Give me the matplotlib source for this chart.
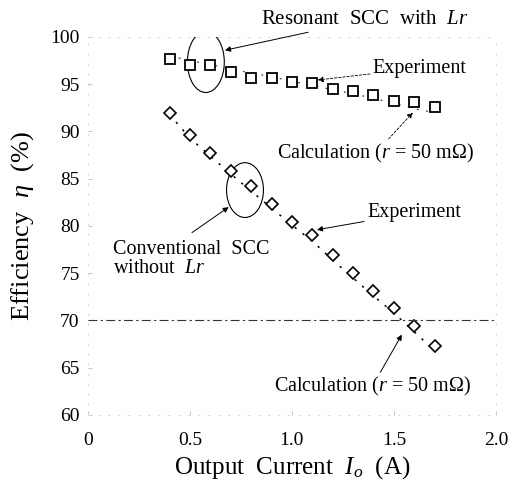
import matplotlib.pyplot as plt
from matplotlib.patches import Ellipse

plt.rcParams['font.family'] = ['Liberation Serif', 'DejaVu Serif']
plt.rcParams['mathtext.fontset'] = 'custom'
plt.rcParams['mathtext.rm'] = 'Liberation Serif'
plt.rcParams['mathtext.it'] = 'Liberation Serif:italic'

# --- DATA ---
current = [0.4, 0.5, 0.6, 0.7, 0.8, 0.9, 1.0, 1.1, 1.2, 1.3, 1.4, 1.5, 1.6, 1.7]

resonant_exp = [97.7, 97.0, 97.0, 96.3, 95.7, 95.7, 95.2, 95.1, 94.5, 94.3, 93.9, 93.2, 93.1, 92.6]
resonant_calc = [98.0, 97.5, 97.1, 96.6, 96.2, 95.8, 95.3, 94.9, 94.4, 94.0, 93.5, 93.0, 92.4, 92.0]

conv_exp = [92.0, 89.6, 87.7, 85.8, 84.2, 82.3, 80.4, 79.0, 76.9, 75.0, 73.1, 71.3, 69.4, 67.3]
conv_calc = [91.8, 89.3, 87.4, 85.5, 83.7, 81.9, 80.1, 78.4, 76.4, 74.5, 72.6, 70.8, 68.8, 66.8]

x_ticks = [0, 0.5, 1.0, 1.5, 2.0]
x_ticklabels = ['0', '0.5', '1.0', '1.5', '2.0']
y_ticks = [60, 65, 70, 75, 80, 85, 90, 95, 100]
ref_level = 70

fig = plt.figure(figsize=(5.13, 4.88), dpi=100)
ax = fig.add_axes([0.1715, 0.1496, 0.795, 0.7746])

# calculation curves (sparse dashes)
ax.plot(current, resonant_calc, color='#444444', lw=0.9, linestyle=(0, (1.5, 6)))
ax.plot(current, conv_calc, color='k', lw=1.1, linestyle=(0, (1.5, 5)))

# experimental points
ax.plot(current, resonant_exp, linestyle='none', marker='s', ms=7.3,
        mfc='white', mec='k', mew=1.3)
ax.plot(current, conv_exp, linestyle='none', marker='D', ms=5.8,
        mfc='white', mec='k', mew=1.2)

# horizontal reference line at 70 %
ax.axhline(ref_level, color='#333333', lw=0.8, linestyle=(0, (8, 3, 2, 3)))

ax.set_xlim(0, 2.0)
ax.set_ylim(60, 100)
ax.set_xticks(x_ticks)
ax.set_xticklabels(x_ticklabels)
ax.set_yticks(y_ticks)
ax.tick_params(axis='both', labelsize=14, direction='in', length=3,
               color='#bbbbbb', width=0.6)
ax.tick_params(axis='x', pad=12)
ax.tick_params(axis='y', pad=6)
for s in ax.spines.values():
    s.set_color('#d5d5d5')
    s.set_linewidth(0.6)
    s.set_linestyle((0, (2, 10)))

ax.set_xlabel('Output  Current  $I_o$  (A)', fontsize=18, labelpad=4)
ax.set_ylabel('Efficiency  $\\eta$  (%)', fontsize=19, labelpad=10)

# ellipses marking the two groups
ax.add_patch(Ellipse((0.578, 97.35), 0.181, 6.45, fill=False, ec='k', lw=0.8))
ax.add_patch(Ellipse((0.770, 83.8), 0.181, 5.8, fill=False, ec='k', lw=0.8))

arrow = dict(arrowstyle='-|>', color='k', lw=0.7, mutation_scale=8,
             shrinkA=0, shrinkB=0)
arrow_dot = dict(arrowstyle='-|>', color='k', lw=0.6, mutation_scale=8,
                 shrinkA=0, shrinkB=0, linestyle=(0, (3, 2)))

ax.annotate('Resonant  SCC  with  $Lr$', xy=(0.672, 98.6), xytext=(0.85, 101.8),
            fontsize=15, va='center', ha='left', arrowprops=arrow,
            annotation_clip=False)
ax.annotate('Experiment', xy=(1.127, 95.45), xytext=(1.397, 96.7),
            fontsize=14.5, va='center', ha='left', arrowprops=arrow_dot)
ax.annotate('Calculation ($r$ = 50 m\u03a9)', xy=(1.593, 92.0), xytext=(0.926, 87.7),
            fontsize=14.5, va='center', ha='left', arrowprops=arrow_dot)
ax.text(0.123, 76.5, 'Conventional  SCC\nwithout  $Lr$',
        fontsize=14.5, va='center', ha='left', linespacing=0.95)
ax.annotate('', xy=(0.69, 82.0), xytext=(0.51, 79.3), arrowprops=arrow)
ax.annotate('Experiment', xy=(1.123, 79.6), xytext=(1.368, 81.4),
            fontsize=14.5, va='center', ha='left', arrowprops=arrow)
ax.annotate('Calculation ($r$ = 50 m\u03a9)', xy=(1.539, 68.5), xytext=(0.91, 63.0),
            fontsize=14.5, va='center', ha='left', arrowprops=arrow)

fig.savefig('out.png', dpi=100)
